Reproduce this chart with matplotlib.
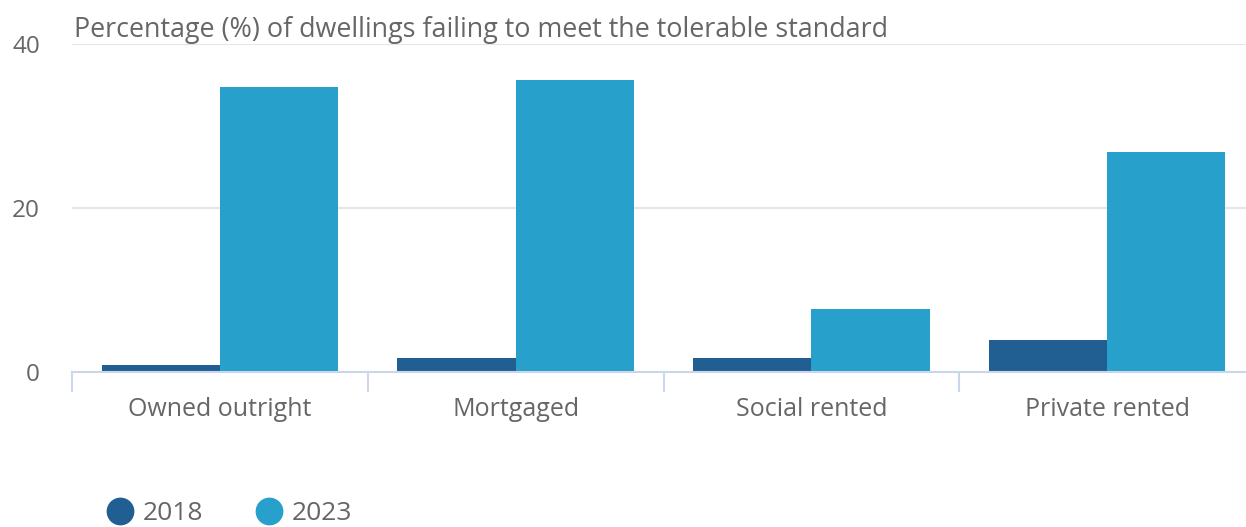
import numpy as np
import matplotlib
matplotlib.use("Agg")
import matplotlib.pyplot as plt
from matplotlib.lines import Line2D

plt.rcParams['font.family'] = ['Open Sans', 'DejaVu Sans']

# Datos
categorias = ["Owned outright", "Mortgaged", "Social rented", "Private rented"]
valores_2018 = [0.9, 1.7, 1.7, 3.9]
valores_2023 = [34.8, 35.6, 7.7, 26.8]
series = ["2018", "2023"]
y_ticks = [0, 20, 40]

color_2018 = "#215f93"
color_2023 = "#27a0cc"
gris_texto = "#666666"

fig = plt.figure(figsize=(12.46, 5.27), dpi=100)
W, H = 1246, 527
# ejes en pixeles: x de 72 a 1255, y de 372 (0) a 44 (40)
ax = fig.add_axes([72 / W, 1 - 372 / H, (1255 - 72) / W, (372 - 44) / H])

x = np.arange(len(categorias))
ancho = 0.4
ax.bar(x - ancho / 2, valores_2018, ancho, color=color_2018, zorder=3)
ax.bar(x + ancho / 2, valores_2023, ancho, color=color_2023, zorder=3)

ax.set_xlim(-0.5, len(categorias) - 0.5)
ax.set_ylim(0, 40)
ax.set_yticks(y_ticks)
ax.set_yticklabels([str(v) for v in y_ticks])

# Rejilla horizontal
for v in y_ticks[1:]:
    ax.axhline(v, color="#e6e6e6", lw=1.5, zorder=1)

for s in ["top", "right", "left"]:
    ax.spines[s].set_visible(False)
ax.spines["bottom"].set_color("#ccd6eb")
ax.spines["bottom"].set_linewidth(1.5)
ax.spines["bottom"].set_zorder(4)

ax.tick_params(axis="y", length=0, pad=23, labelsize=17.5, labelcolor=gris_texto)
ax.set_xticks(x)
ax.set_xticklabels(categorias)
ax.tick_params(axis="x", length=0, pad=18, labelsize=18, labelcolor=gris_texto)

# Marcas entre categorias
ax.set_xticks(np.arange(len(categorias) + 1) - 0.5, minor=True)
ax.tick_params(axis="x", which="minor", length=14.5, width=1.5, color="#ccd6eb")

# Titulo
fig.text(74 / W, 1 - 30 / H, "Percentage (%) of dwellings failing to meet the tolerable standard",
         fontsize=19.4, color=gris_texto, ha="left", va="center")

# Leyenda
handles = [Line2D([0], [0], marker="o", linestyle="", markersize=19, color=c)
           for c in [color_2018, color_2023]]
fig.legend(handles, series, loc="center left", bbox_to_anchor=(104 / W, 1 - 514 / H),
           ncol=2, frameon=False, fontsize=19, labelcolor=gris_texto,
           handlelength=1.2, handletextpad=0.25, columnspacing=1.92,
           borderaxespad=0, borderpad=0)

fig.savefig("out.png", dpi=100)
